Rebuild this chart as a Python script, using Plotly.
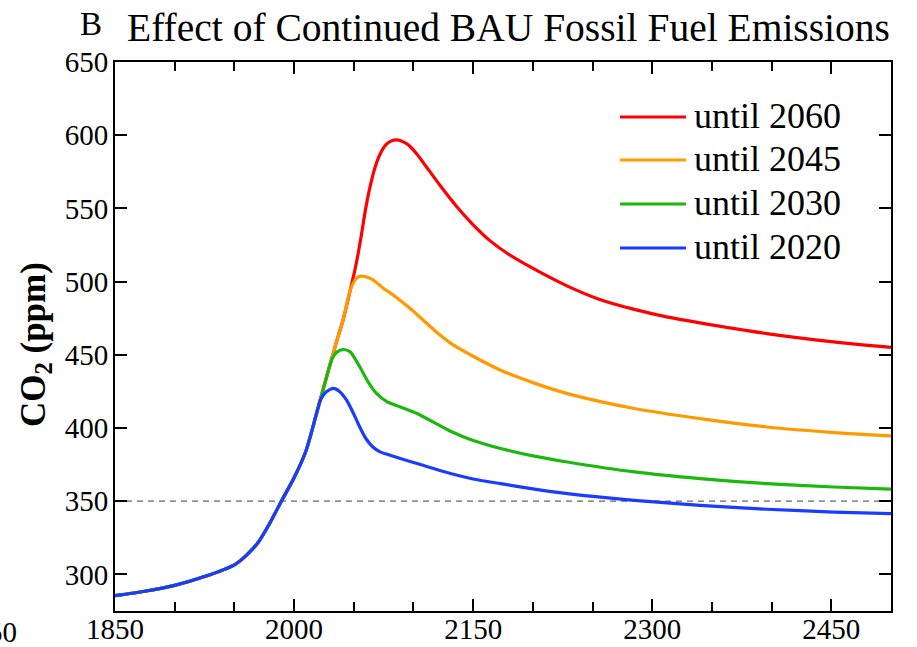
import plotly.graph_objects as go

# ---------------- data ----------------
hist_years = [1850, 1875, 1900, 1925, 1950, 1960, 1970, 1980, 1990, 2000, 2010, 2020]
hist_co2 = [285.5, 288.5, 292.5, 298.5, 306.5, 313.0, 322.0, 335.5, 351.0, 366.0, 384.5, 413.5]

red_years = [2025, 2030, 2035, 2041, 2047, 2052, 2056, 2060, 2064, 2068, 2072, 2077, 2082, 2086, 2092,
             2097, 2103, 2110, 2122, 2136, 2150, 2164, 2180, 2199, 2229, 2256, 2285, 2312, 2340, 2396,
             2452, 2500]
red_co2 = [428.5, 443.0, 457.5, 473.6, 494.0, 512.0, 530.0, 550.0, 566.0, 578.5, 587.0, 593.5, 596.3, 596.8,
           595.3, 592.5, 587.0, 579.3, 566.0, 551.5, 538.8, 528.0, 518.5, 509.5, 496.9, 487.8, 481.0, 475.9,
           471.8, 464.5, 458.8, 455.0]

orange_years = [2025, 2030, 2035, 2041, 2047, 2051, 2054, 2057, 2062, 2066.5, 2071, 2075, 2080.5, 2086,
                2097, 2108, 2120, 2131, 2150, 2173, 2200, 2229, 2285, 2340, 2396, 2452, 2500]
orange_co2 = [428.5, 443.0, 457.5, 473.6, 494.0, 501.0, 503.3, 503.7, 502.8, 501.0, 498.0, 495.3, 492.3,
              489.0, 481.8, 473.8, 465.0, 458.0, 449.0, 439.5, 431.0, 423.5, 413.3, 406.4, 400.7, 396.9, 394.6]

green_years = [2025, 2029, 2032, 2036, 2041, 2047, 2055, 2062, 2069, 2078, 2089, 2103, 2131, 2150, 2173,
               2200, 2229, 2285, 2340, 2396, 2452, 2500]
green_co2 = [428.0, 440.0, 447.5, 452.0, 453.6, 452.0, 441.8, 431.5, 423.6, 417.8, 414.4, 409.9, 397.8,
             391.5, 386.0, 381.0, 376.8, 370.0, 365.4, 362.0, 359.7, 358.3]

blue_years = [2022, 2027, 2033, 2038, 2044, 2050, 2055, 2060, 2066, 2072, 2078, 2089, 2103, 2131, 2150,
              2173, 2200, 2229, 2285, 2340, 2396, 2452, 2500]
blue_co2 = [419.0, 424.7, 427.0, 425.0, 419.0, 409.5, 400.7, 393.0, 387.0, 383.7, 382.0, 379.1, 375.7,
            368.9, 365.2, 362.0, 358.4, 355.2, 350.6, 347.2, 344.5, 342.6, 341.5]

series_names = ["until 2060", "until 2045", "until 2030", "until 2020"]
series_colors = ["#ff0000", "#ff9900", "#1db80f", "#1a3cff"]
threshold_ppm = 350

x_range = [1850, 2500]
y_range = [275, 650]
x_major = 150
x_minor = 50
y_major = 50

title_letter = "B"
title_text = "Effect of Continued BAU Fossil Fuel Emissions"
y_title = "CO<sub>2</sub> (ppm)"
stray_label = "1750"

# ---------------- figure ----------------
W, H = 917, 647
L, R, T, B = 115, 26, 62, 36
pw, ph = W - L - R, H - T - B

def px_x(X):
    return (X - L) / pw

def px_y(Y):
    return (H - B - Y) / ph

serif = "Liberation Serif"

fig = go.Figure()
all_series = [
    (red_years, red_co2),
    (orange_years, orange_co2),
    (green_years, green_co2),
    (blue_years, blue_co2),
]
for (yrs, vals), name, col in zip(all_series, series_names, series_colors):
    fig.add_trace(go.Scatter(
        x=hist_years + yrs, y=hist_co2 + vals, mode="lines", name=name,
        line=dict(color=col, width=3.2, shape="spline", smoothing=0.7),
        showlegend=False, hoverinfo="skip",
    ))

fig.add_shape(type="line", xref="paper", yref="y", x0=0, x1=1, y0=threshold_ppm, y1=threshold_ppm,
              line=dict(color="#666666", width=1.3, dash="6px,5px"), layer="below")

# manual legend
leg_line_y = [117, 160, 204, 248]
for i, (name, col) in enumerate(zip(series_names, series_colors)):
    yy = px_y(leg_line_y[i])
    fig.add_shape(type="line", xref="paper", yref="paper", x0=px_x(620), x1=px_x(686), y0=yy, y1=yy,
                  line=dict(color=col, width=3.2))
    fig.add_annotation(xref="paper", yref="paper", x=px_x(692), y=px_y(leg_line_y[i] - 1.5),
                       xanchor="left", yanchor="middle", text=name, showarrow=False,
                       font=dict(family=serif, size=36, color="black"))

# titles
fig.add_annotation(xref="paper", yref="paper", x=px_x(78), y=px_y(24), xanchor="left", yanchor="middle",
                   text=title_letter, showarrow=False, font=dict(family=serif, size=33, color="black"))
fig.add_annotation(xref="paper", yref="paper", x=px_x(125), y=px_y(27.5), xanchor="left", yanchor="middle",
                   text=title_text, showarrow=False, font=dict(family=serif, size=39.5, color="black"))
fig.add_annotation(xref="paper", yref="paper", x=px_x(35), y=px_y(345), xanchor="center", yanchor="middle",
                   text=y_title, textangle=-90, showarrow=False,
                   font=dict(family=serif, size=35, color="black", weight="bold"))
fig.add_annotation(xref="paper", yref="paper", x=px_x(-12), y=px_y(632), xanchor="center", yanchor="middle",
                   text=stray_label, showarrow=False, font=dict(family=serif, size=29, color="black"))

axis_common = dict(
    showline=True, linecolor="black", linewidth=2, mirror="allticks",
    ticks="inside", ticklen=12, tickwidth=1.5, tickcolor="black",
    showgrid=False, zeroline=False, automargin=False,
    tickfont=dict(family=serif, size=29, color="black"),
)
fig.update_xaxes(range=x_range, tick0=x_range[0], dtick=x_major,
                 minor=dict(tick0=x_range[0], dtick=x_minor, ticks="inside", ticklen=9, tickwidth=1.5,
                            tickcolor="black", showgrid=False),
                 ticklabelstandoff=-9, **axis_common)
fig.update_yaxes(range=y_range, tick0=300, dtick=y_major, ticklabelstandoff=-1, **axis_common)

fig.update_layout(
    width=W, height=H, margin=dict(l=L, r=R, t=T, b=B, autoexpand=False),
    paper_bgcolor="white", plot_bgcolor="white", showlegend=False,
)

fig.write_html("out.html")
